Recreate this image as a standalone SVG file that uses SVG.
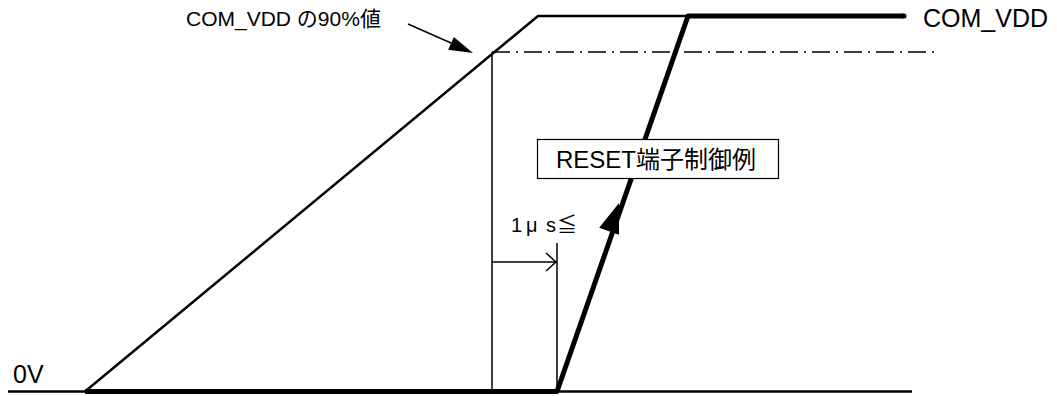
<svg xmlns="http://www.w3.org/2000/svg" width="1057" height="396" viewBox="0 0 1057 396">
<style>
text{font-family:"Liberation Sans","Noto Sans CJK JP",sans-serif;fill:#000}
.thin{fill:none;stroke:#000;stroke-width:2.5}
.hair{fill:none;stroke:#000;stroke-width:1.5}
.thick{fill:none;stroke:#000;stroke-width:5;stroke-linejoin:round}
.dd{fill:none;stroke:#000;stroke-width:1.5;stroke-dasharray:18 6 2 6}
</style>
<rect width="1057" height="396" fill="#fff"/>
<g id="connectors">
<polyline class="thin" points="8,391.5 85,391.5 538,16 688,16"/>
<line class="thin" x1="557" y1="391.5" x2="912" y2="391.5"/>
<polyline class="thick" points="85,391.5 557,391.5 688,16 904,16" stroke-linecap="butt"/>
<circle cx="904" cy="16" r="2.5" fill="#000"/>
<polygon points="619,203 619,234.8 599.2,227.8" fill="#000"/>
<line class="dd" x1="492" y1="52" x2="937" y2="52"/>
<line class="hair" x1="492" y1="52" x2="492" y2="391"/>
<line class="hair" x1="557" y1="243" x2="557" y2="391"/>
<line class="hair" x1="492" y1="262" x2="556" y2="262"/>
<polyline class="hair" points="546,253 556,262 546,271"/>
<line class="hair" x1="408" y1="24" x2="455" y2="44.8"/>
<polygon points="473,53 448.2,49.7 453.8,36.9" fill="#000"/>
</g>
<g id="label-90">
<text x="186" y="26" font-size="21">COM_VDD の90%値</text>
</g>
<g id="label-vdd">
<text x="923" y="27" font-size="25">COM_VDD</text>
</g>
<g id="label-0v">
<text x="13" y="383" font-size="25">0V</text>
</g>
<g id="label-reset">
<rect x="537.5" y="139.5" width="241" height="39" fill="#fff" stroke="#000" stroke-width="1.2"/>
<text x="556" y="168" font-size="24">RESET端子制御例</text>
</g>
<g id="label-1us">
<text y="232" font-size="20"><tspan x="511">1</tspan><tspan x="526">μ</tspan><tspan x="546">s</tspan><tspan x="557">≦</tspan></text>
</g>
</svg>
